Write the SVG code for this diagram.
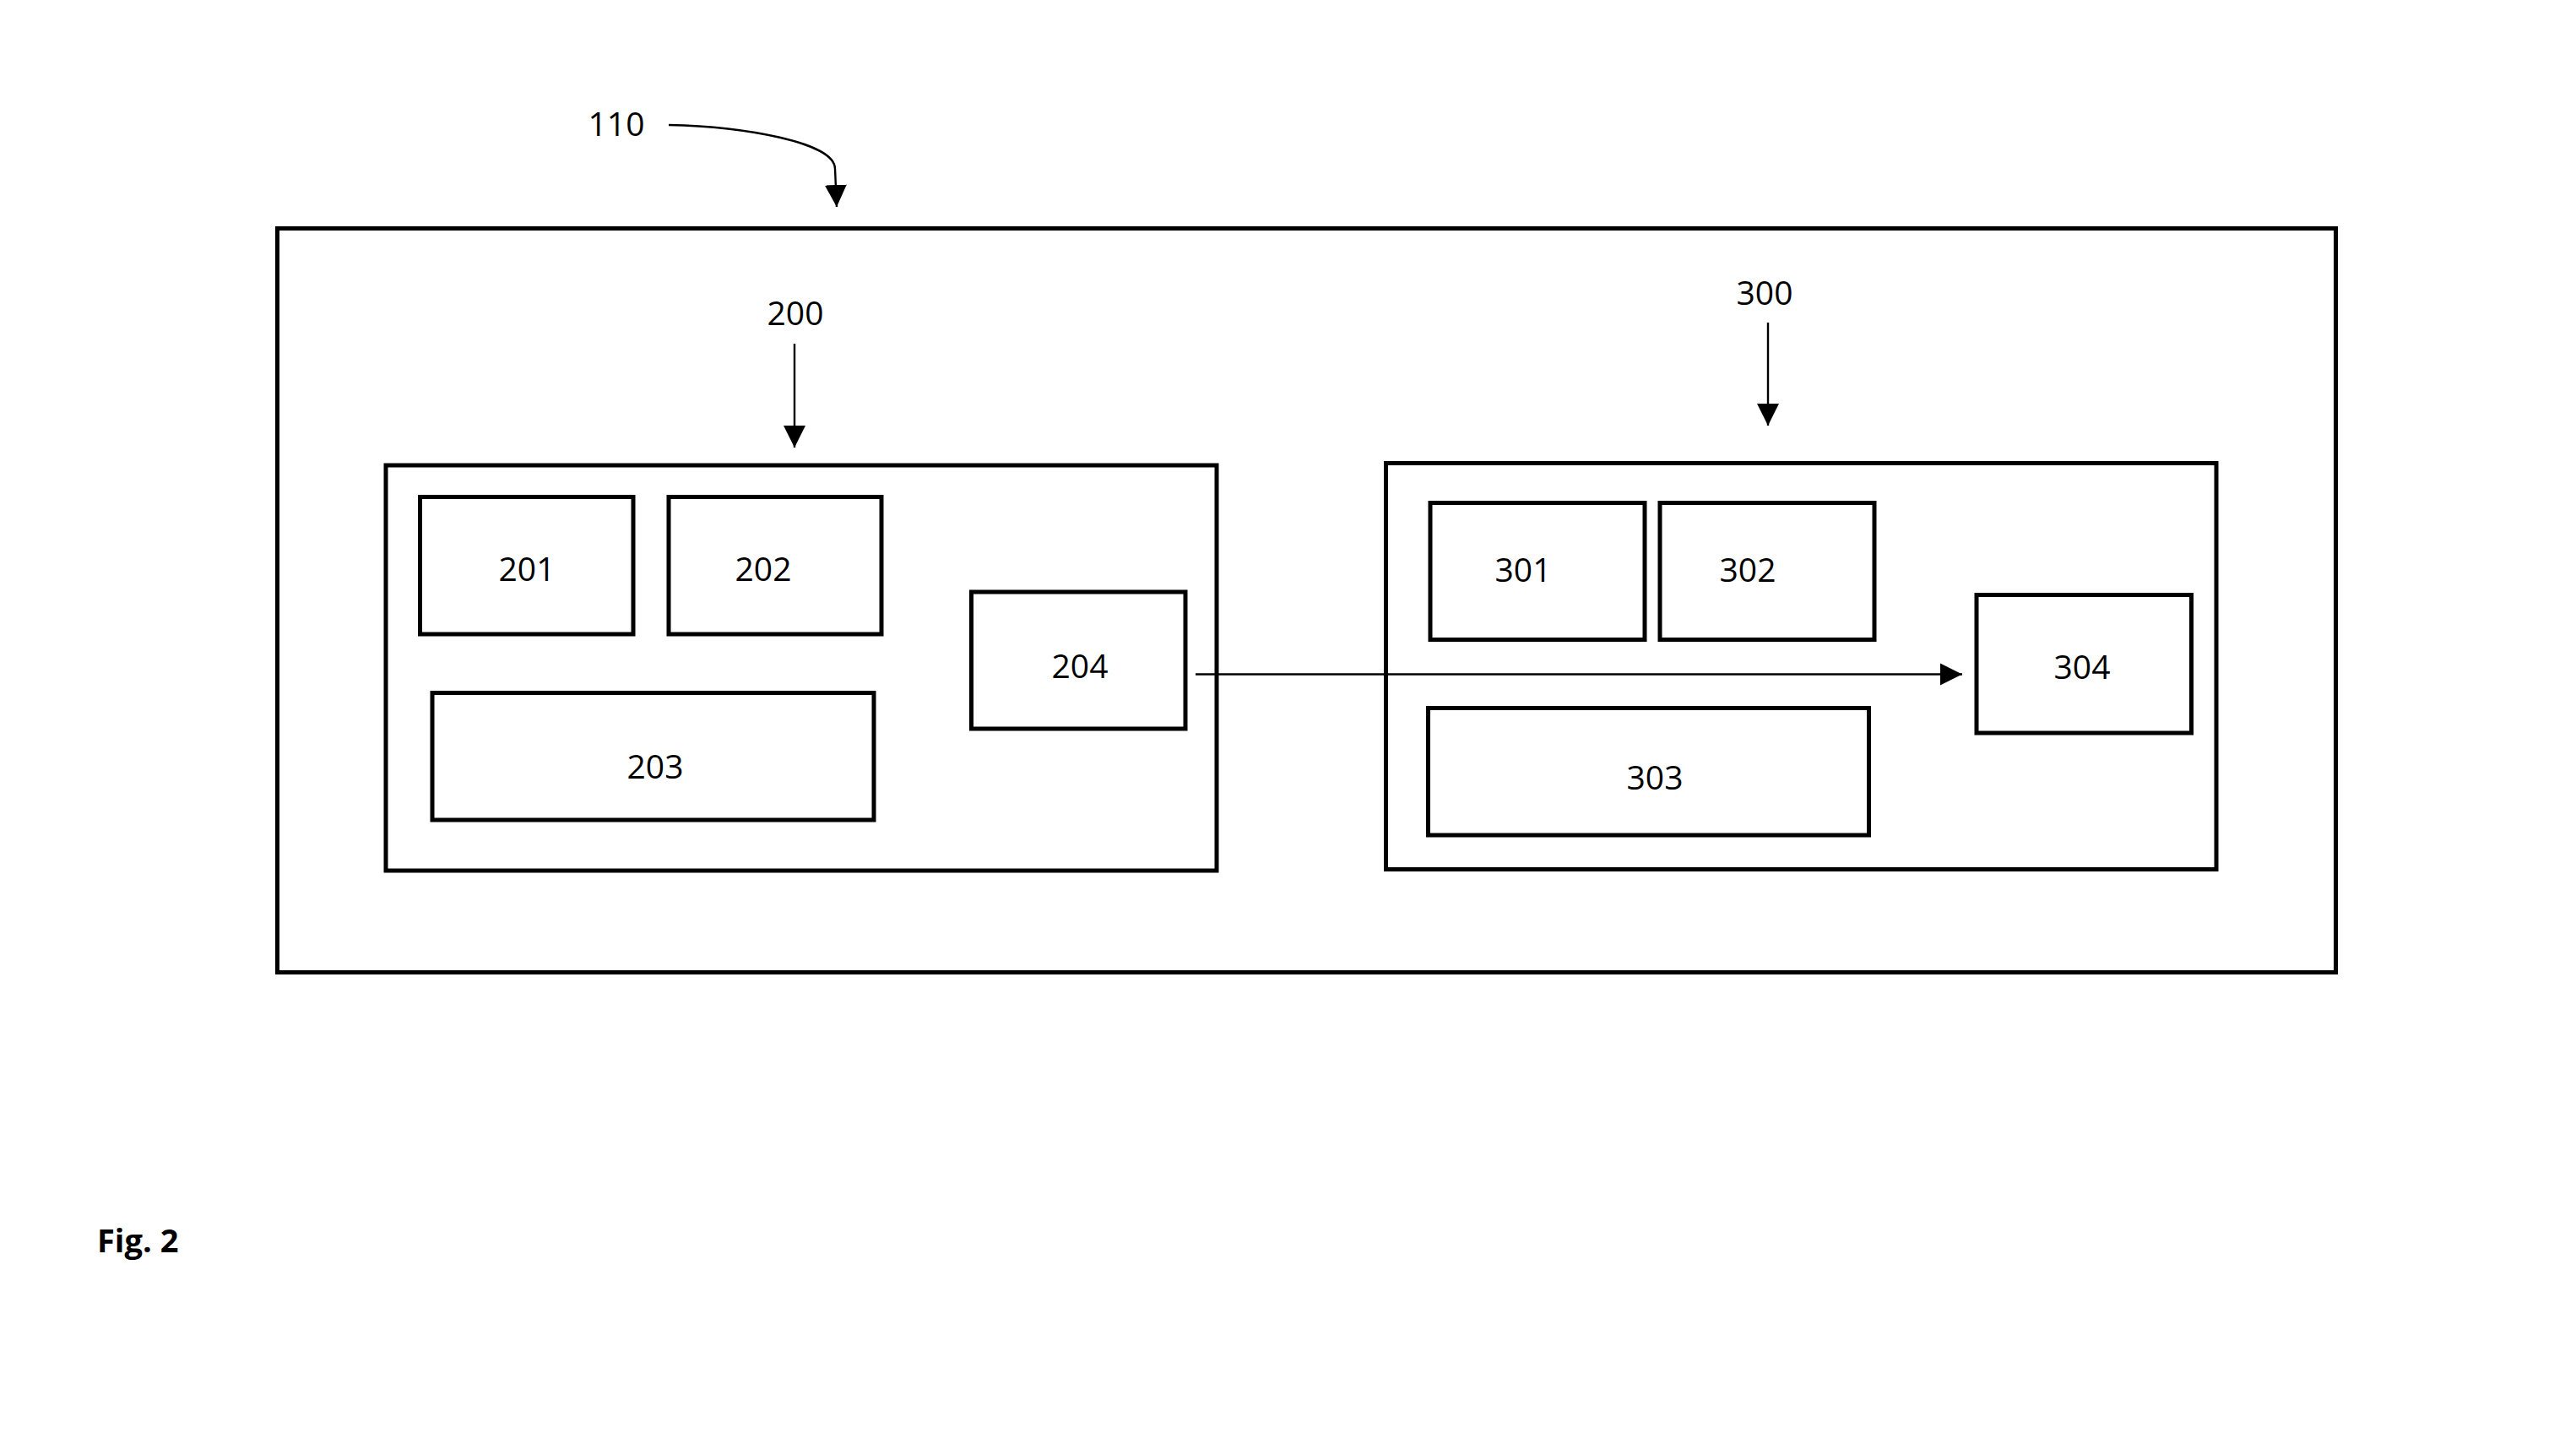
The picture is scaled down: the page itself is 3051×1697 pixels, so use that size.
<svg xmlns="http://www.w3.org/2000/svg" width="3051" height="1697" viewBox="0 0 3051 1697">
<style>
.box{fill:none;stroke:#000;stroke-width:5}
.lbl{font-family:"Open Sans","Liberation Sans",Arial,sans-serif;font-size:39px;fill:#000;text-anchor:middle}
.conn{fill:none;stroke:#000;stroke-width:2.4}
.fig{font-family:"Open Sans","Liberation Sans",Arial,sans-serif;font-size:38px;font-weight:bold;fill:#000}
</style>
<defs>
<marker id="ah" markerUnits="userSpaceOnUse" markerWidth="27" markerHeight="27" refX="26" refY="13" orient="auto" viewBox="0 0 27 26">
<path d="M0,0 L26,13 L0,26 z" fill="#000"/>
</marker>
</defs>
<rect width="3051" height="1697" fill="#fff"/>
<g id="n110">
<rect class="box" x="328.5" y="270.5" width="2438" height="881"/>
<text class="lbl" x="730" y="161">110</text>
</g>
<g id="n200">
<rect class="box" x="457" y="551" width="984" height="480"/>
<text class="lbl" x="942" y="385">200</text>
</g>
<g id="n201">
<rect class="box" x="497.5" y="588.5" width="252.5" height="162.5"/>
<text class="lbl" x="624" y="688">201</text>
</g>
<g id="n202">
<rect class="box" x="792" y="588.5" width="252" height="162.5"/>
<text class="lbl" x="904" y="688">202</text>
</g>
<g id="n203">
<rect class="box" x="512" y="820.5" width="523" height="150.5"/>
<text class="lbl" x="776" y="922">203</text>
</g>
<g id="n204">
<rect class="box" x="1150.5" y="701" width="253.5" height="162"/>
<text class="lbl" x="1279" y="803">204</text>
</g>
<g id="n300">
<rect class="box" x="1641.5" y="548.5" width="983.5" height="481"/>
<text class="lbl" x="2090" y="361">300</text>
</g>
<g id="n301">
<rect class="box" x="1694" y="595.5" width="254" height="162"/>
<text class="lbl" x="1804" y="689">301</text>
</g>
<g id="n302">
<rect class="box" x="1966" y="595.5" width="254" height="162"/>
<text class="lbl" x="2070" y="689">302</text>
</g>
<g id="n303">
<rect class="box" x="1691.5" y="838.5" width="522" height="150.5"/>
<text class="lbl" x="1960" y="935">303</text>
</g>
<g id="n304">
<rect class="box" x="2341" y="704.5" width="254.5" height="163.5"/>
<text class="lbl" x="2466" y="804">304</text>
</g>
<g id="connectors">
<path class="conn" d="M792,148 C880,150 989,168 989,200 L991,245" marker-end="url(#ah)"/>
<line class="conn" x1="941" y1="407" x2="941" y2="530" marker-end="url(#ah)"/>
<line class="conn" x1="2094" y1="382" x2="2094" y2="504" marker-end="url(#ah)"/>
<line class="conn" x1="1416" y1="798.5" x2="2324" y2="798.5" marker-end="url(#ah)"/>
</g>
<text class="fig" x="115" y="1483">Fig. 2</text>
</svg>
